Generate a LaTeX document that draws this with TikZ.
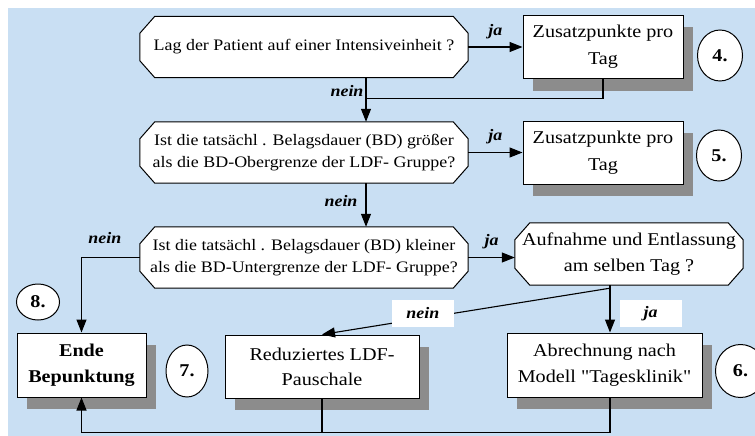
\documentclass[tikz,border=0pt]{standalone}
\usepackage{fontspec}
\setmainfont{Liberation Serif}[FakeStretch=1.12, Ligatures=TeXOff]
\usepackage{xcolor}
\usepackage{tikz}
\usetikzlibrary{positioning, arrows.meta, shapes.geometric, shadows, backgrounds}
\definecolor{bgblue}{RGB}{201,223,243}
\definecolor{shadowgray}{RGB}{140,140,140}

\begin{document}
\begin{tikzpicture}[x=1pt, y=-1pt,
    ask/.style={rectangle, minimum width=328pt, minimum height=61pt, inner sep=0pt, align=center, font=\fontsize{16pt}{22pt}\selectfont},
    box/.style={rectangle, draw, fill=white, line width=1pt, inner sep=0pt, align=center, font=\fontsize{18pt}{27pt}\selectfont, drop shadow={shadow xshift=10pt, shadow yshift=-12pt, fill=shadowgray, opacity=1}},
    num/.style={ellipse, draw, fill=white, line width=1pt, inner sep=0pt, minimum width=45pt, minimum height=51pt, font=\fontsize{18pt}{20pt}\selectfont\bfseries},
    yesno/.style={inner sep=1pt, font=\fontsize{16pt}{18pt}\selectfont\bfseries\itshape},
    tag/.style={yesno, fill=white, minimum width=62pt, minimum height=27pt, inner sep=0pt},
    link/.style={line width=1.1pt},
    arr/.style={link, -{Triangle[length=13pt, width=10pt]}}]
    \useasboundingbox (0,0) rectangle (755,436);

    % questions and their yes-boxes
    \node[ask] (q1) at (304,47) {Lag der Patient auf einer Intensiveinheit ?};
    \node[box, minimum width=160pt, minimum height=63pt, right of=q1, node distance=299pt] (z4) {Zusatzpunkte pro\\Tag};
    \node[num, right of=z4, node distance=117pt, yshift=-8.5pt] (n4) {4.};

    \node[ask, below of=q1, node distance=105.5pt] (q2) {Ist die tatsächl . Belagsdauer (BD) größer\\als die BD-Obergrenze der LDF- Gruppe?};
    \node[box, minimum width=160pt, minimum height=63pt, right of=q2, node distance=299pt] (z5) {Zusatzpunkte pro\\Tag};
    \node[num, right of=z5, node distance=116pt, yshift=-3pt] (n5) {5.};

    \node[ask, below of=q2, node distance=105pt] (q3) {Ist die tatsächl . Belagsdauer (BD) kleiner\\als die BD-Untergrenze der LDF- Gruppe?};
    \node[ask, minimum width=228pt, minimum height=62pt, font=\fontsize{18pt}{26pt}\selectfont, right of=q3, node distance=325pt, yshift=3.5pt] (q4) {Aufnahme und Entlassung\\am selben Tag ?};

    % bottom row
    \node[box, minimum width=129pt, minimum height=64pt, font=\fontsize{18pt}{26pt}\selectfont\bfseries] (ende) at (81.5,365) {Ende\\Bepunktung};
    \node[box, minimum width=194pt, minimum height=63pt, font=\fontsize{18pt}{25pt}\selectfont, right of=ende, node distance=240.5pt, yshift=-1.5pt] (ldf) {Reduziertes LDF-\\Pauschale};
    \node[box, minimum width=195pt, minimum height=64pt, font=\fontsize{18pt}{26pt}\selectfont, right of=ldf, node distance=282.5pt, yshift=1.5pt] (tk) {Abrechnung nach\\Modell "Tagesklinik"};
    \node[num, minimum width=43pt, minimum height=36pt] (n8) at (38,302) {8.};
    \node[num, minimum width=42pt, minimum height=52pt, right of=ende, node distance=105.5pt, yshift=-6pt] (n7) {7.};
    \node[num, minimum width=50pt, minimum height=53pt, right of=tk, node distance=136pt, yshift=-6pt] (n6) {6.};

    % background and the cut-corner question frames
    \begin{scope}[on background layer]
        \fill[bgblue] (8,8) rectangle (755,436);
        \foreach \q in {q1,q2,q3,q4}
            \draw[fill=white, line width=1pt] ([xshift=15pt]\q.north west) -- ([xshift=-15pt]\q.north east)
                -- ([yshift=-17pt]\q.north east) -- ([yshift=17pt]\q.south east)
                -- ([xshift=-15pt]\q.south east) -- ([xshift=15pt]\q.south west)
                -- ([yshift=17pt]\q.south west) -- ([yshift=-17pt]\q.north west) -- cycle;
    \end{scope}

    % connectors
    \draw[arr] (q1.east) -- node[yesno, above=7pt] {ja} (q1.east -| z4.west);
    \draw[arr] ([xshift=62pt]q1.south) -- node[yesno, pos=0.3, left=1pt] {nein} ([xshift=62pt]q2.north);
    \draw[link] (z4.south) |- ([xshift=62pt, yshift=-21pt]q1.south);
    \draw[arr] (q2.east) -- node[yesno, above=7pt] {ja} (q2.east -| z5.west);
    \draw[arr] ([xshift=62pt]q2.south) -- node[yesno, pos=0.41, left=7pt] {nein} ([xshift=62pt]q3.north);
    \draw[arr] (q3.east) -- node[yesno, above=7pt] {ja} (q3.east -| q4.west);
    \draw[arr] (q3.west) -| node[yesno, pos=0.3, above=12pt] {nein} (ende.north);

    \coordinate (split) at ([xshift=-19pt, yshift=-3pt]q4.south);
    \draw[link] ([xshift=-19pt]q4.south) -- (split);
    \draw[arr] (split) -- node[tag, pos=0.57, right=9pt] {ja} (split |- tk.north);
    \draw[arr] (split) -- node[tag, pos=0.65, yshift=5pt] {nein} (ldf.north);

    \draw[arr] ([xshift=5.5pt]tk.south) -- ++(0,35) -| (ende.south);
    \draw[link] (ldf.south) -- ++(0,34);
\end{tikzpicture}
\end{document}
